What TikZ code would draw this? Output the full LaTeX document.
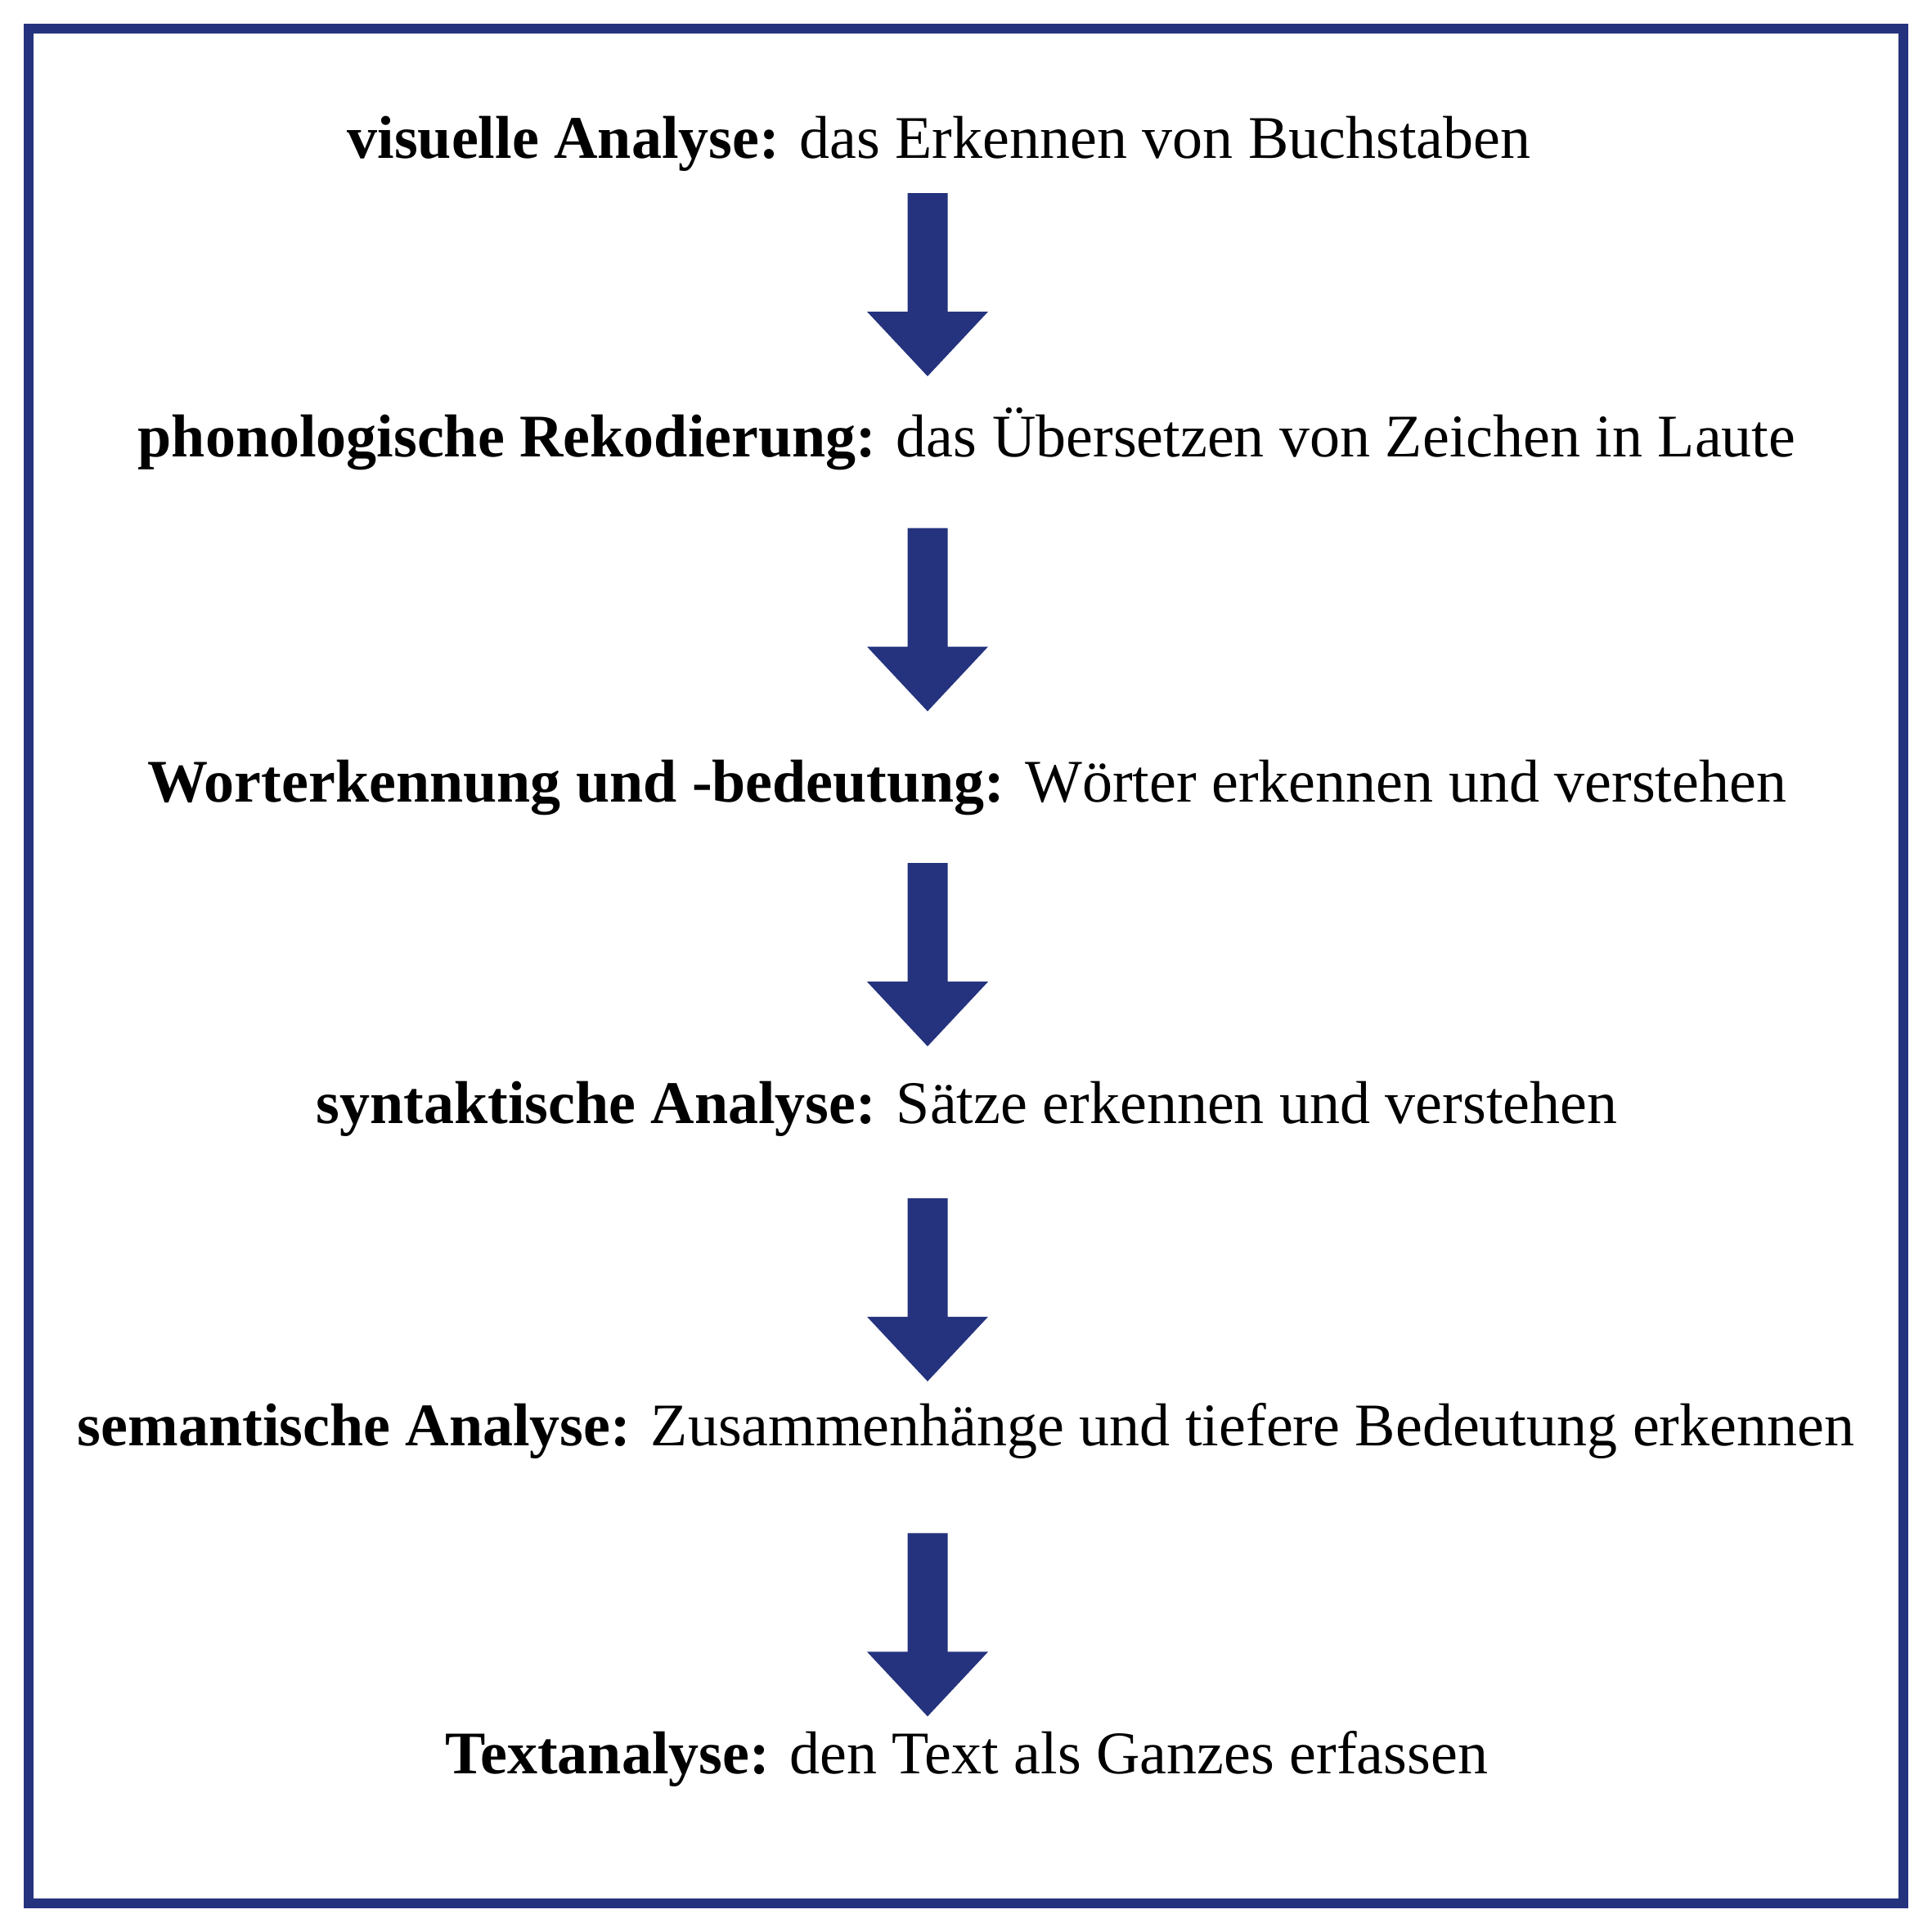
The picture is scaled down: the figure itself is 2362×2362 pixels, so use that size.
\documentclass[tikz,border=0pt]{standalone}
\usepackage{fontspec}
\setmainfont{Liberation Serif}
\definecolor{navy}{RGB}{37,51,126}
\begin{document}
\begin{tikzpicture}[x=0.3pt,y=-0.3pt,
  lbl/.style={anchor=base, inner sep=0pt, font=\fontsize{22.2}{26}\selectfont},
  blockarrow/.style={fill=navy, draw=none},
  frame/.style={draw=navy, line width=3.6pt}]
\useasboundingbox (0,0) rectangle (2362,2362);
\draw[frame] (35,35) rectangle (2327,2327);
\node[lbl] (l1) at (1148,193) {\textbf{visuelle Analyse:} das Erkennen von Buchstaben};
\node[lbl] (l2) at (1182,558) {\textbf{phonologische Rekodierung:} das Übersetzen von Zeichen in Laute};
\node[lbl] (l3) at (1182,980) {\textbf{Worterkennung und -bedeutung:} Wörter erkennen und verstehen};
\node[lbl] (l4) at (1182,1373) {\textbf{syntaktische Analyse:} Sätze erkennen und verstehen};
\node[lbl] (l5) at (1181,1767) {\textbf{semantische Analyse:} Zusammenhänge und tiefere Bedeutung erkennen};
\node[lbl] (l6) at (1182,2168) {\textbf{Textanalyse:} den Text als Ganzes erfassen};
\foreach \k in {0,...,4}{
  \coordinate (a\k) at (1134,{236+409.6*\k});
  \fill[blockarrow] (a\k) ++(-24.5,0) -- ++(49,0) -- ++(0,145) -- ++(49.5,0)
     -- ++(-74,79) -- ++(-74,-79) -- ++(49.5,0) -- cycle;
}
\end{tikzpicture}
\end{document}
